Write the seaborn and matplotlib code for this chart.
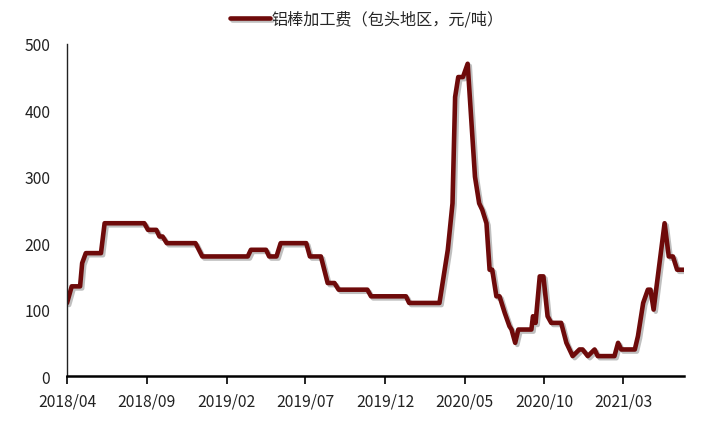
import matplotlib
matplotlib.use("Agg")
import matplotlib.pyplot as plt
import matplotlib.patheffects as pe
import pandas as pd
import seaborn as sns

# 铝棒加工费（包头地区，元/吨），按折点读取
dates = [
    "2018-04-01", "2018-04-10", "2018-04-26", "2018-04-30", "2018-05-07",
    "2018-06-05", "2018-06-12", "2018-08-27", "2018-09-03", "2018-09-19",
    "2018-09-25", "2018-10-01", "2018-10-09", "2018-12-03", "2018-12-16",
    "2019-03-13", "2019-03-19", "2019-04-17", "2019-04-23", "2019-05-07",
    "2019-05-15", "2019-07-03", "2019-07-10", "2019-07-31", "2019-08-13",
    "2019-08-26", "2019-09-03", "2019-10-28", "2019-11-04", "2020-01-10",
    "2020-01-16", "2020-03-14", "2020-03-30", "2020-04-08", "2020-04-13",
    "2020-04-19", "2020-04-28", "2020-05-07", "2020-05-21", "2020-05-29",
    "2020-06-04", "2020-06-12", "2020-06-18", "2020-06-23", "2020-07-01",
    "2020-07-07", "2020-07-17", "2020-07-26", "2020-07-30", "2020-08-06",
    "2020-08-12", "2020-09-06", "2020-09-09", "2020-09-14", "2020-09-22",
    "2020-09-29", "2020-10-07", "2020-10-14", "2020-11-02", "2020-11-12",
    "2020-11-24", "2020-12-07", "2020-12-13", "2020-12-23", "2021-01-05",
    "2021-01-11", "2021-02-12", "2021-02-19", "2021-02-25", "2021-03-23",
    "2021-03-29", "2021-04-08", "2021-04-17", "2021-04-22", "2021-04-28",
    "2021-05-19", "2021-05-27", "2021-06-04", "2021-06-12", "2021-06-25",
]
fees = [
    110, 135, 135, 170, 185,
    185, 230, 230, 220, 220,
    210, 210, 200, 200, 180,
    180, 190, 190, 180, 180,
    200, 200, 180, 180, 140,
    140, 130, 130, 120, 120,
    110, 110, 190, 260, 420,
    450, 450, 470, 300, 260,
    250, 230, 160, 160, 120,
    120, 95, 75, 70, 50,
    70, 70, 90, 80, 150,
    150, 90, 80, 80, 50,
    30, 40, 40, 30, 40,
    30, 30, 50, 40, 40,
    60, 110, 130, 130, 100,
    230, 180, 180, 160, 160,
]
tick_dates = ["2018-04-01", "2018-09-01", "2019-02-01", "2019-07-01",
              "2019-12-01", "2020-05-01", "2020-10-01", "2021-03-01"]
tick_labels = ["2018/04", "2018/09", "2019/02", "2019/07",
               "2019/12", "2020/05", "2020/10", "2021/03"]
series_name = "铝棒加工费（包头地区，元/吨）"

df = pd.DataFrame({"date": pd.to_datetime(dates), "fee": fees})

sns.set_style("white")
plt.rcParams["font.family"] = ["Noto Sans CJK SC", "DejaVu Sans"]

fig = plt.figure(figsize=(7.19, 4.27), dpi=100)
ax = fig.add_axes([0.0932, 0.117, 0.858, 0.778])

sns.lineplot(data=df, x="date", y="fee", ax=ax, color="#6e0a0a",
             linewidth=3.3, label=series_name,
             path_effects=[pe.SimpleLineShadow(offset=(1.5, -1.5), alpha=0.25),
                           pe.Normal()])

ax.set_xlim(df["date"].iloc[0], df["date"].iloc[-1])
ax.set_ylim(0, 500)
ax.set_yticks(range(0, 501, 100))
ax.set_xticks(pd.to_datetime(tick_dates))
ax.set_xticklabels(tick_labels)
ax.set_xlabel("")
ax.set_ylabel("")

for s in ["top", "right"]:
    ax.spines[s].set_visible(False)
ax.spines["left"].set_color("#222222")
ax.spines["left"].set_linewidth(1.0)
ax.spines["bottom"].set_color("black")
ax.spines["bottom"].set_linewidth(1.8)

ax.tick_params(axis="x", bottom=True, direction="out", length=6, width=1.2,
               colors="black", labelsize=11.3, pad=6, labelcolor="#222222")
ax.tick_params(axis="y", left=False, length=0, labelsize=11.3, pad=12,
               labelcolor="#222222")

ax.get_legend().remove()
fig.legend(*ax.get_legend_handles_labels(), loc="center",
           bbox_to_anchor=(0.51, 0.952), frameon=False, fontsize=11.6,
           handlelength=2.5, handletextpad=0.1)

fig.savefig("out.png", dpi=100)
